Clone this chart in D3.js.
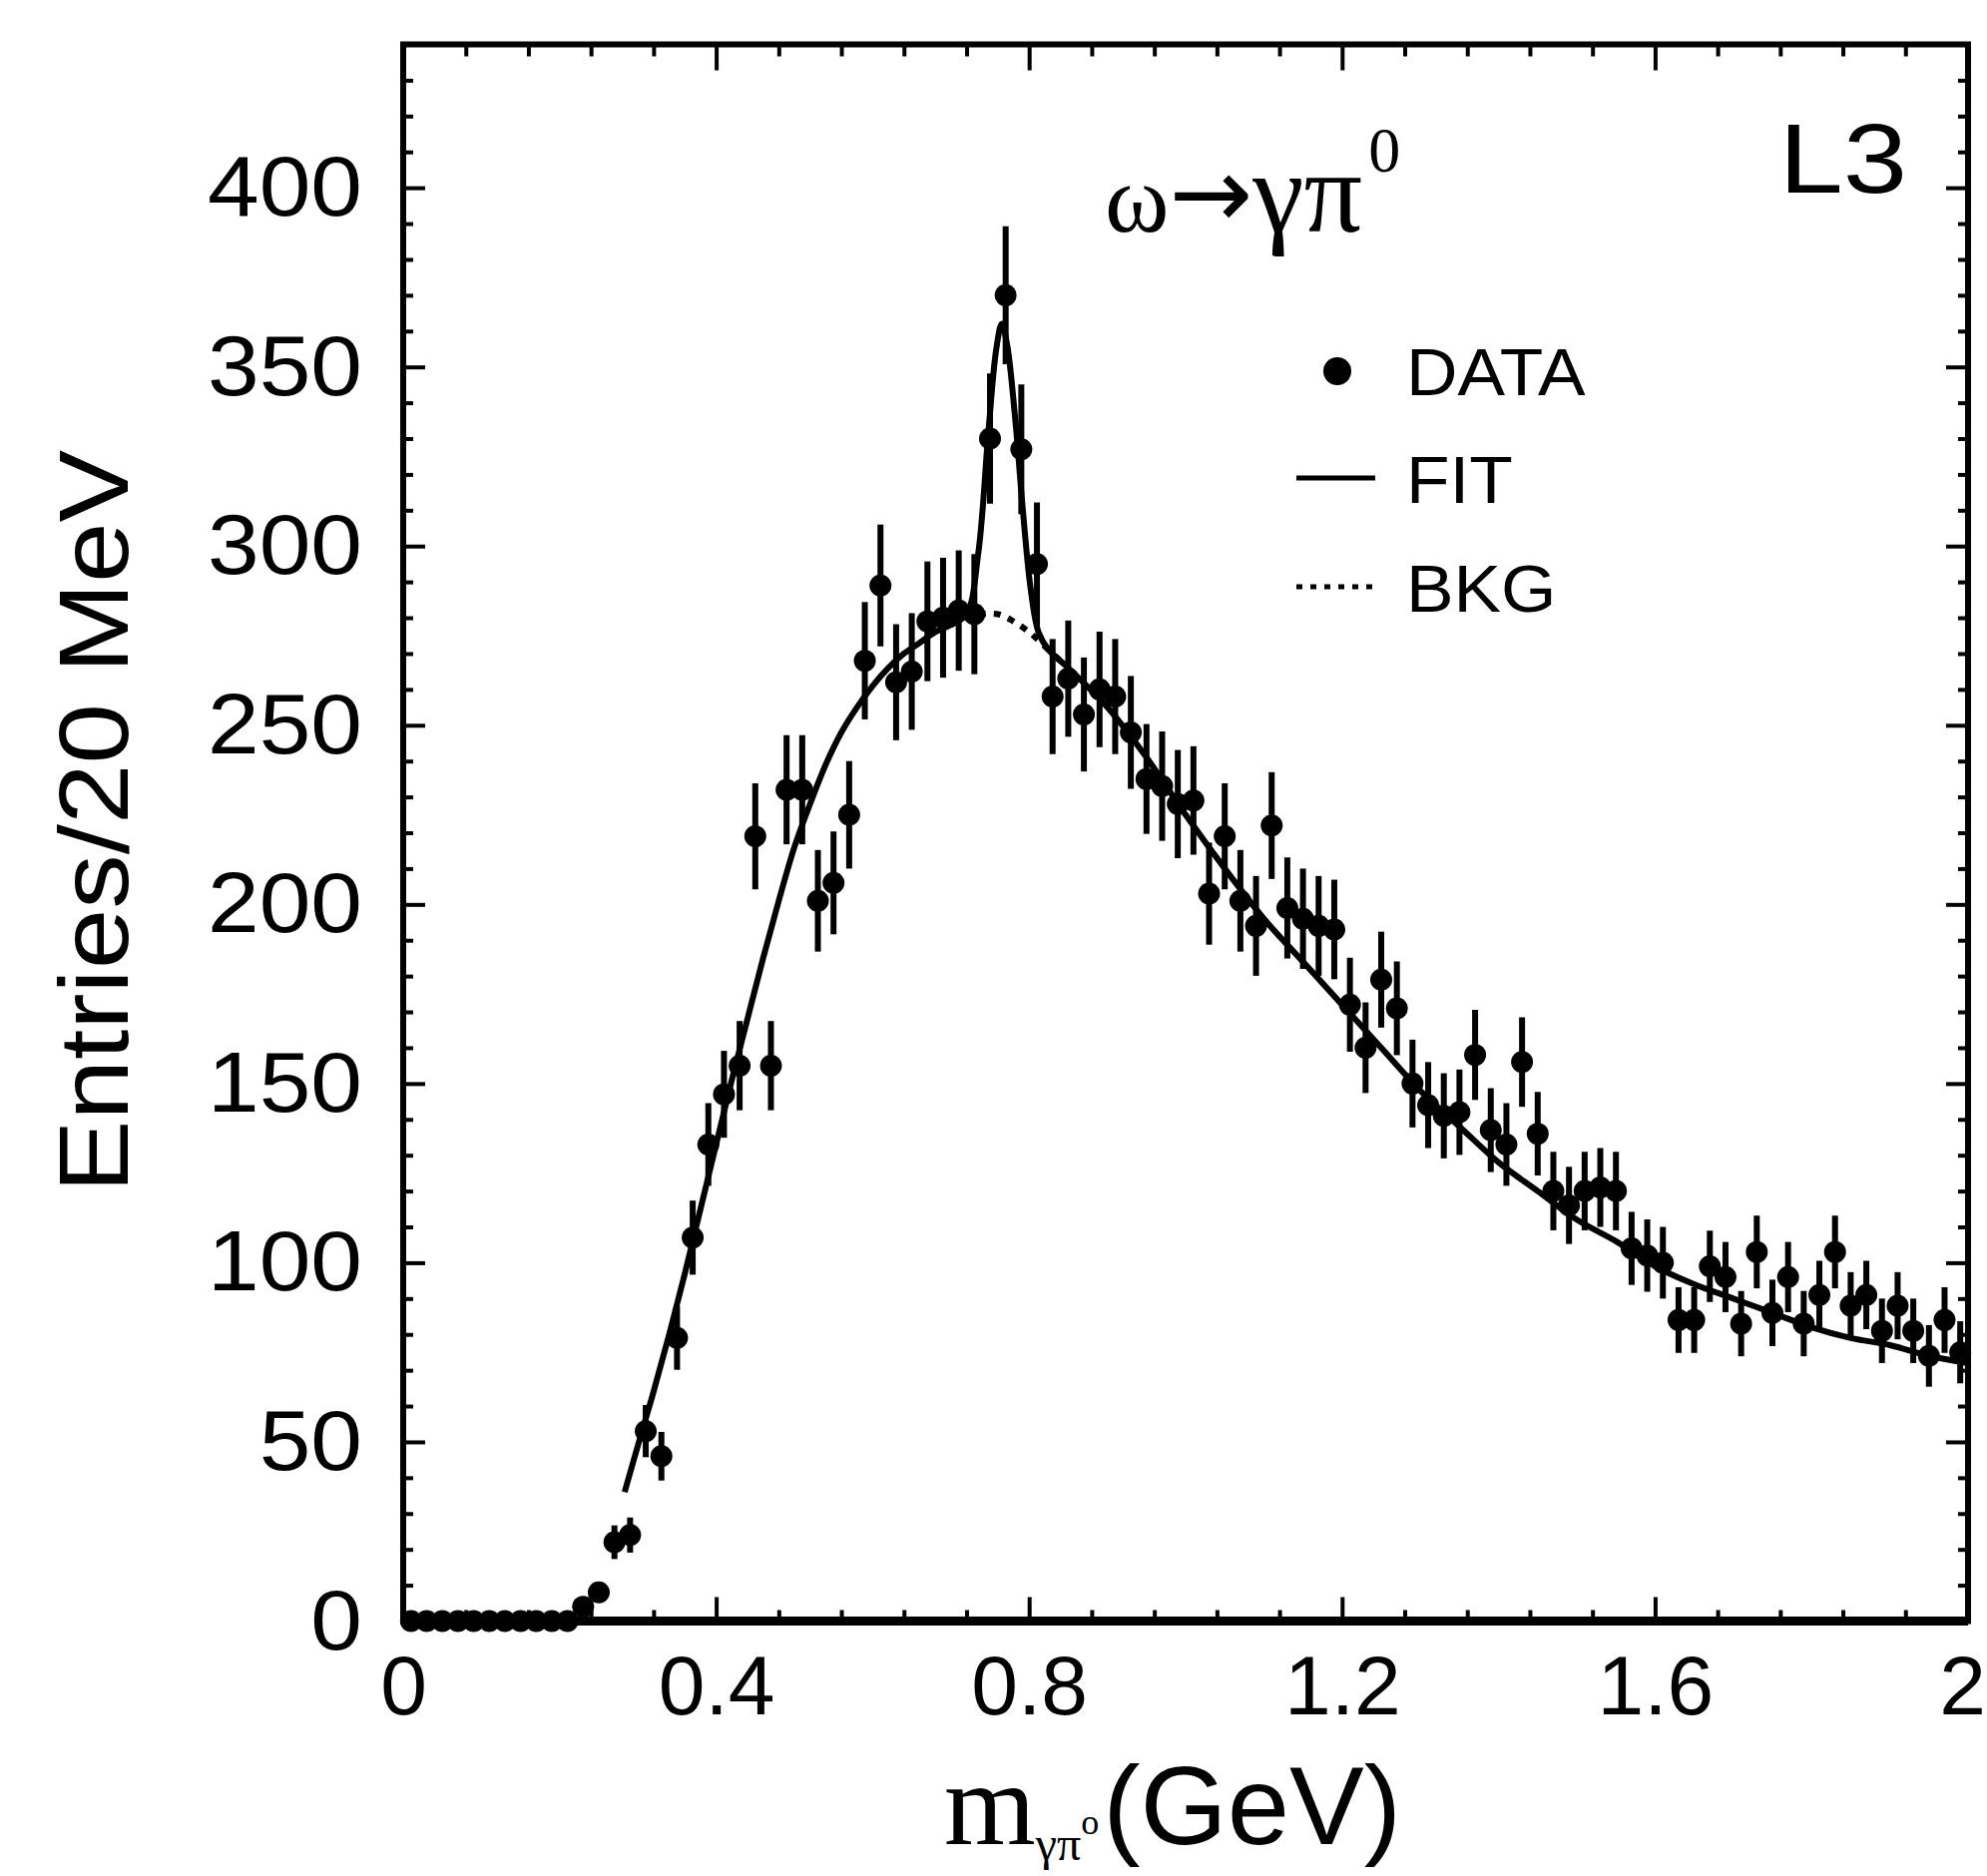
<!DOCTYPE html>
<html>
<head>
<meta charset="utf-8">
<script src="https://cdn.jsdelivr.net/npm/d3@7"></script>
<style>
  body { margin: 0; background: #fff; }
  text { fill: #000; }
</style>
</head>
<body>
<div id="chart"></div>
<script>
// bin centres (20 MeV bins) in GeV
const massBins = [
  0.01,0.03,0.05,0.07,0.09,0.11,0.13,0.15,0.17,0.19,
  0.21,0.23,0.25,0.27,0.29,0.31,0.33,0.35,0.37,0.39,
  0.41,0.43,0.45,0.47,0.49,0.51,0.53,0.55,0.57,0.59,
  0.61,0.63,0.65,0.67,0.69,0.71,0.73,0.75,0.77,0.79,
  0.81,0.83,0.85,0.87,0.89,0.91,0.93,0.95,0.97,0.99,
  1.01,1.03,1.05,1.07,1.09,1.11,1.13,1.15,1.17,1.19,
  1.21,1.23,1.25,1.27,1.29,1.31,1.33,1.35,1.37,1.39,
  1.41,1.43,1.45,1.47,1.49,1.51,1.53,1.55,1.57,1.59,
  1.61,1.63,1.65,1.67,1.69,1.71,1.73,1.75,1.77,1.79,
  1.81,1.83,1.85,1.87,1.89,1.91,1.93,1.95,1.97,1.99
];

// entries per bin (DATA)
const counts = [
  0,0,0,0,0,0,0,0,0,0,
  0,4,8,22,24,53,46,79,107,133,
  147,155,219,155,232,232,201,206,225,268,
  289,262,265,279,280,282,281,330,370,327,
  295,258,263,253,260,258,248,235,233,228,
  229,203,219,201,194,222,199,196,194,193,
  172,160,179,171,150,144,141,142,158,137,
  133,156,136,120,116,120,121,120,104,102,
  100,84,84,99,96,83,103,86,96,83,
  91,103,88,91,81,88,81,74,84,75
];

// FIT curve
const fitX = [0.283,0.30,0.32,0.34,0.36,0.38,0.40,0.42,0.44,0.46,0.48,0.50,0.52,0.54,0.56,0.58,0.60,
  0.62,0.64,0.66,0.68,0.70,0.72,0.735,0.748,0.758,0.765,0.772,0.782,0.792,0.802,0.812,0.825,0.85,
  0.90,0.95,1.00,1.05,1.10,1.15,1.20,1.25,1.30,1.35,1.40,1.45,1.50,1.55,1.60,1.65,1.70,1.75,1.80,
  1.85,1.90,1.95,2.00];
const fitY = [36,49,64,80,97,115,133,151,168,185,201,216,228,239,248,255,261,
  266,270,273,276,278,281,298,332,355,362,356,336,310,288,276,271,266,
  255,241,225,210,196,184,172,160,148,138,128,120,112,106,99,94,90,86,82,
  79,77,74,72];

// BKG curve under the omega peak
const bkgX = [0.70,0.72,0.74,0.76,0.78,0.80,0.82,0.84];
const bkgY = [278,280,281,281,279,276,272,268];

const xTickLabels = ["0","0.4","0.8","1.2","1.6","2"];
const yTickLabels = ["0","50","100","150","200","250","300","350","400"];

const W = 1991, H = 1880;
const plotL = 404, plotR = 1972, plotT = 44.5, plotB = 1624.5;
const SANS = "'Liberation Sans', Arial, Helvetica, sans-serif";
const SERIF = "'Liberation Serif', 'DejaVu Serif', 'Times New Roman', serif";

const svg = d3.select("#chart")
  .append("svg")
  .attr("width", W)
  .attr("height", H)
  .style("background", "#fff");

const x = d3.scaleLinear().domain([0, 2]).range([plotL, plotR]);
const y = d3.scaleLinear().domain([0, 440]).range([plotB, plotT]);

// ticks on all four sides, pointing inwards
function ticks(axis, pos, values, len) {
  svg.append("g")
    .attr("transform", pos)
    .call(axis.tickValues(values).tickSize(-len).tickFormat(""))
    .call(g => g.select(".domain").remove())
    .selectAll("line").attr("stroke", "#000").attr("stroke-width", 4);
}
const xMajor = xTickLabels.map(Number);
const xMinor = d3.range(0, 2.001, 0.08).filter(v => Math.abs(v / 0.4 - Math.round(v / 0.4)) > 0.01);
const yMajor = yTickLabels.map(Number);
const yMinor = d3.range(0, 441, 10).filter(v => v % 50 !== 0);

ticks(d3.axisBottom(x), `translate(0,${plotB})`, xMajor, 24);
ticks(d3.axisBottom(x), `translate(0,${plotB})`, xMinor, 11);
ticks(d3.axisTop(x), `translate(0,${plotT})`, xMajor, 26);
ticks(d3.axisTop(x), `translate(0,${plotT})`, xMinor, 12);
ticks(d3.axisLeft(y), `translate(${plotL},0)`, yMajor, 22);
ticks(d3.axisLeft(y), `translate(${plotL},0)`, yMinor, 10);
ticks(d3.axisRight(y), `translate(${plotR},0)`, yMajor, 22);
ticks(d3.axisRight(y), `translate(${plotR},0)`, yMinor, 10);

// tick labels
svg.append("g")
  .attr("transform", `translate(0,${plotB})`)
  .call(d3.axisBottom(x).tickValues(xMajor).tickSize(0).tickPadding(34)
    .tickFormat((d, i) => xTickLabels[i]))
  .call(g => g.select(".domain").remove())
  .selectAll("text")
  .attr("font-family", SANS)
  .attr("font-size", 84)
  .attr("fill", "#000")
  .attr("dx", d => d === 2 ? -6 : 0);

svg.append("g")
  .attr("transform", `translate(${plotL},0)`)
  .call(d3.axisLeft(y).tickValues(yMajor).tickSize(0).tickPadding(38)
    .tickFormat((d, i) => yTickLabels[i]))
  .call(g => g.select(".domain").remove())
  .selectAll("text")
  .attr("font-family", SANS)
  .attr("font-size", 86)
  .attr("fill", "#000")
  .attr("transform", "scale(1.08,1)");

// frame
svg.append("rect")
  .attr("x", plotL).attr("y", plotT)
  .attr("width", plotR - plotL).attr("height", plotB - plotT)
  .attr("fill", "none").attr("stroke", "#000").attr("stroke-width", 6);
svg.append("line")
  .attr("x1", plotL).attr("x2", plotR).attr("y1", plotB).attr("y2", plotB)
  .attr("stroke", "#000").attr("stroke-width", 9);

// background (dotted) and fit (solid)
const line = d3.line().x(d => x(d[0])).y(d => y(d[1])).curve(d3.curveCatmullRom);
svg.append("path")
  .attr("d", line(bkgX.map((v, i) => [v, bkgY[i]])))
  .attr("fill", "none").attr("stroke", "#000")
  .attr("stroke-width", 6).attr("stroke-dasharray", "7,8");
svg.append("path")
  .attr("d", line(fitX.map((v, i) => [v, fitY[i]])))
  .attr("fill", "none").attr("stroke", "#000").attr("stroke-width", 6);

// data points with statistical errors
const pts = massBins.map((m, i) => ({ m: m, n: counts[i], e: Math.sqrt(counts[i]) }));
svg.selectAll(".err")
  .data(pts.filter(d => d.n > 0))
  .enter().append("line")
  .attr("class", "err")
  .attr("x1", d => x(d.m)).attr("x2", d => x(d.m))
  .attr("y1", d => y(d.n + d.e)).attr("y2", d => y(Math.max(0, d.n - d.e)))
  .attr("stroke", "#000").attr("stroke-width", 6);
svg.selectAll(".pt")
  .data(pts)
  .enter().append("circle")
  .attr("class", "pt")
  .attr("cx", d => x(d.m)).attr("cy", d => y(d.n))
  .attr("r", 11)
  .attr("fill", "#000");

// L3 tag
svg.append("text")
  .attr("transform", "translate(1911,193) scale(1.18,1)")
  .attr("text-anchor", "end")
  .attr("font-family", SANS).attr("font-size", 98)
  .text("L3");

// decay label
const decay = svg.append("text")
  .attr("x", 1107).attr("y", 232)
  .attr("font-family", SERIF).attr("font-size", 110);
decay.append("tspan").attr("font-size", 98).text("ω");
decay.append("tspan").attr("font-family", "'DejaVu Sans', sans-serif")
  .attr("font-size", 100).attr("dy", -4).text("→");
decay.append("tspan").attr("dy", 4).attr("font-size", 116).text("γπ");
decay.append("tspan").attr("font-size", 64).attr("dy", -60).attr("dx", 6).text("0");

// legend
svg.append("circle").attr("cx", 1340).attr("cy", 372).attr("r", 14).attr("fill", "#000");
svg.append("line").attr("x1", 1299).attr("x2", 1378).attr("y1", 479).attr("y2", 479)
  .attr("stroke", "#000").attr("stroke-width", 5);
svg.append("line").attr("x1", 1299).attr("x2", 1378).attr("y1", 588).attr("y2", 588)
  .attr("stroke", "#000").attr("stroke-width", 5).attr("stroke-dasharray", "6,8");
[["DATA", 396], ["FIT", 504], ["BKG", 613]].forEach(([t, yy]) => {
  svg.append("text")
    .attr("transform", `translate(1409,${yy}) scale(1.08,1)`)
    .attr("font-family", SANS).attr("font-size", 66)
    .text(t);
});

// axis titles
svg.append("text")
  .attr("transform", `translate(128,823) rotate(-90) scale(1.1,1)`)
  .attr("text-anchor", "middle")
  .attr("font-family", SANS).attr("font-size", 99)
  .text("Entries/20 MeV");

const xt = svg.append("text")
  .attr("x", 946).attr("y", 1848)
  .attr("font-family", SANS).attr("font-size", 112);
xt.append("tspan").attr("font-family", SERIF).attr("font-size", 118).text("m");
xt.append("tspan").attr("font-family", SERIF).attr("font-size", 48).attr("dy", 16).text("γπ");
xt.append("tspan").attr("font-family", SERIF).attr("font-size", 36).attr("dy", -26).text("o");
xt.append("tspan").attr("dy", 10).attr("dx", 4).text("(GeV)");
</script>
</body>
</html>
